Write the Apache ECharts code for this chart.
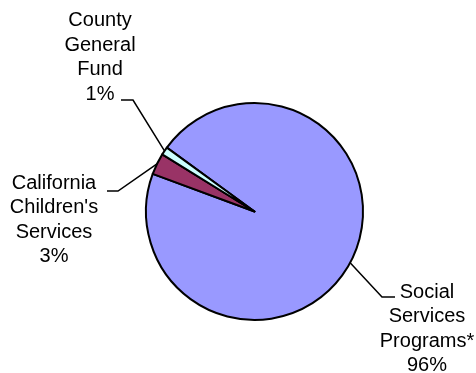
<!DOCTYPE html>
<html>
<head>
<meta charset="utf-8">
<script src="https://cdn.jsdelivr.net/npm/echarts@6/dist/echarts.min.js"></script>
<style>
  html, body { margin: 0; padding: 0; background: #ffffff; }
  #chart { width: 476px; height: 373px; }
</style>
</head>
<body>
<div id="chart"></div>
<script>
// Funding sources and their shares (percent of total)
const categories = ['Social\nServices\nPrograms*', 'California\nChildren\'s\nServices', 'County\nGeneral\nFund'];
const shares = [95.6, 3.2, 1.2];
const sliceColors = ['#9999FF', '#993366', '#CCFFFF'];

// Where each label block sits and where its leader line bends
const labelSpots = [
  { x: 427, y: 329, elbowX: 382, endX: 395, endY: 297 },
  { x: 54,  y: 220, elbowX: 118, endX: 107, endY: 191 },
  { x: 100, y: 57.5, elbowX: 133, endX: 121, endY: 100 }
];

const chart = echarts.init(document.getElementById('chart'), null, { renderer: 'canvas' });

chart.setOption({
  animation: false,
  backgroundColor: '#ffffff',
  series: [{
    type: 'pie',
    center: [254.5, 211.5],
    radius: 108.5,
    startAngle: 143.9,
    clockwise: true,
    avoidLabelOverlap: false,
    data: categories.map((name, i) => ({
      name: name,
      value: shares[i],
      itemStyle: { color: sliceColors[i] }
    })),
    itemStyle: { borderColor: '#000000', borderWidth: 2 },
    label: {
      show: true,
      position: 'outside',
      color: '#000000',
      fontFamily: 'Liberation Sans, Arial, sans-serif',
      fontSize: 20,
      lineHeight: 24.5,
      align: 'center',
      formatter: p => p.name + '\n' + Math.round(p.value) + '%'
    },
    labelLine: {
      show: true,
      lineStyle: { color: '#000000', width: 1.5 }
    },
    labelLayout: function (params) {
      const spot = labelSpots[params.dataIndex];
      const start = params.labelLinePoints ? params.labelLinePoints[0] : [spot.elbowX, spot.endY];
      return {
        x: spot.x,
        y: spot.y,
        align: 'center',
        verticalAlign: 'middle',
        labelLinePoints: [start, [spot.elbowX, spot.endY], [spot.endX, spot.endY]]
      };
    },
    emphasis: { disabled: true }
  }]
});
</script>
</body>
</html>
